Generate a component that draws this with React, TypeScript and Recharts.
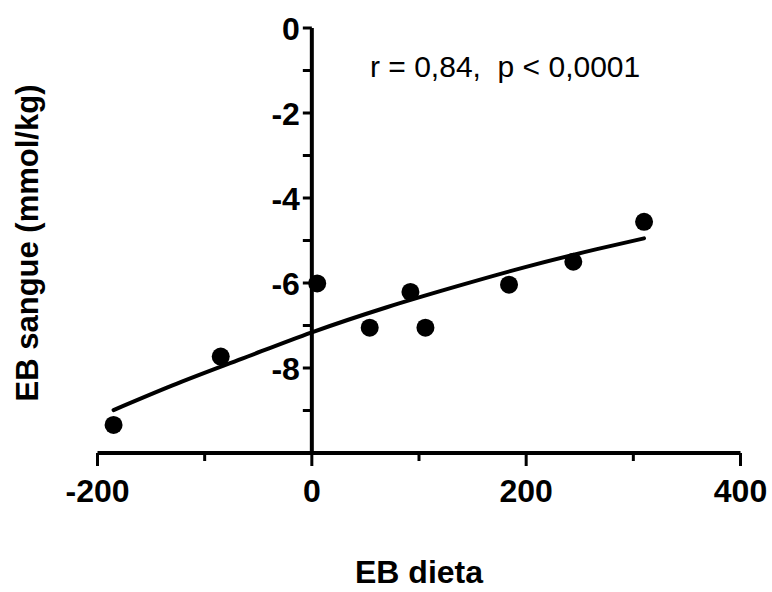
import {
	ReferenceDot,
	ReferenceLine,
	Scatter,
	ScatterChart,
	XAxis,
	YAxis,
} from "recharts";

// observed points: base excess in diet vs blood
const dietEB = [-185, -85, 5, 54, 92, 106, 184, 244, 310];
const bloodEB = [-9.34, -7.73, -6.01, -7.05, -6.21, -7.05, -6.04, -5.5, -4.56];

// fitted curve
const fitX = [-185, -130, -65, 0, 70, 135, 200, 265, 310];
const fitY = [-8.99, -8.41, -7.78, -7.16, -6.57, -6.08, -5.62, -5.21, -4.95];

const xTicks = [-200, -100, 0, 100, 200, 300, 400];
const xLabels = [-200, 0, 200, 400];
const yTicks = [0, -1, -2, -3, -4, -5, -6, -7, -8, -9];
const yLabels = [0, -2, -4, -6, -8];

const FONT = '"Liberation Sans", Arial, Helvetica, sans-serif';

const points = dietEB.map((x, i) => ({ x, y: bloodEB[i] }));
const fit = fitX.map((x, i) => ({ x, y: fitY[i] }));

function XTick(props: any) {
	const { x, y, payload } = props;
	const major = xLabels.includes(payload.value);
	return (
		<g>
			<line
				x1={x}
				x2={x}
				y1={y}
				y2={y + (major ? 13 : 8)}
				stroke="#000"
				strokeWidth={3}
			/>
			{major && (
				<text
					x={x}
					y={y + 49}
					textAnchor="middle"
					fontFamily={FONT}
					fontWeight="bold"
					fontSize={32}
					fill="#000"
				>
					{payload.value}
				</text>
			)}
		</g>
	);
}

function yTickShape(value: number) {
	return (props: any) => {
		const { cx, cy } = props;
		return (
			<g>
				<line x1={cx - 9} x2={cx} y1={cy} y2={cy} stroke="#000" strokeWidth={3} />
				{yLabels.includes(value) && (
					<text
						x={cx - 12}
						y={cy + 12}
						textAnchor="end"
						fontFamily={FONT}
						fontWeight="bold"
						fontSize={32}
						fill="#000"
					>
						{value}
					</text>
				)}
			</g>
		);
	};
}

function Dot(props: any) {
	return <circle cx={props.cx} cy={props.cy} r={9} fill="#000" />;
}

export default function App() {
	return (
		<div style={{ position: "absolute", left: 0, top: 0, width: 772, height: 592, background: "#fff" }}>
			<ScatterChart
				width={772}
				height={592}
				margin={{ top: 28, right: 31.5, bottom: 79, left: 97.5 }}
			>
				<XAxis
					type="number"
					dataKey="x"
					domain={[-200, 400]}
					ticks={xTicks}
					interval={0}
					height={60}
					tickSize={0}
					tickMargin={0}
					tickLine={false}
					axisLine={{ stroke: "#000", strokeWidth: 4 }}
					tick={<XTick />}
				/>
				<YAxis type="number" dataKey="y" domain={[-10, 0]} hide />
				<ReferenceLine x={0} stroke="#000" strokeWidth={4} />
				{yTicks.map((v) => (
					<ReferenceDot
						key={v}
						x={0}
						y={v}
						r={1}
						ifOverflow="visible"
						shape={yTickShape(v)}
					/>
				))}
				<Scatter
					data={fit}
					line={{ stroke: "#000", strokeWidth: 4, strokeLinecap: "round" }}
					lineJointType="monotoneX"
					shape={() => <g />}
					isAnimationActive={false}
				/>
				<Scatter data={points} shape={<Dot />} isAnimationActive={false} />
			</ScatterChart>
			<svg
				width={772}
				height={592}
				style={{ position: "absolute", left: 0, top: 0, pointerEvents: "none" }}
			>
				<text
					x={370}
					y={77}
					fontFamily={FONT}
					fontSize={30}
					fill="#000"
					style={{ whiteSpace: "pre" }}
				>
					{"r = 0,84,  p < 0,0001"}
				</text>
				<text
					x={419}
					y={583}
					textAnchor="middle"
					fontFamily={FONT}
					fontWeight="bold"
					fontSize={32}
					fill="#000"
				>
					EB dieta
				</text>
				<text
					transform="translate(38, 243) rotate(-90)"
					textAnchor="middle"
					fontFamily={FONT}
					fontWeight="bold"
					fontSize={31}
					fill="#000"
				>
					EB sangue (mmol/kg)
				</text>
			</svg>
		</div>
	);
}
